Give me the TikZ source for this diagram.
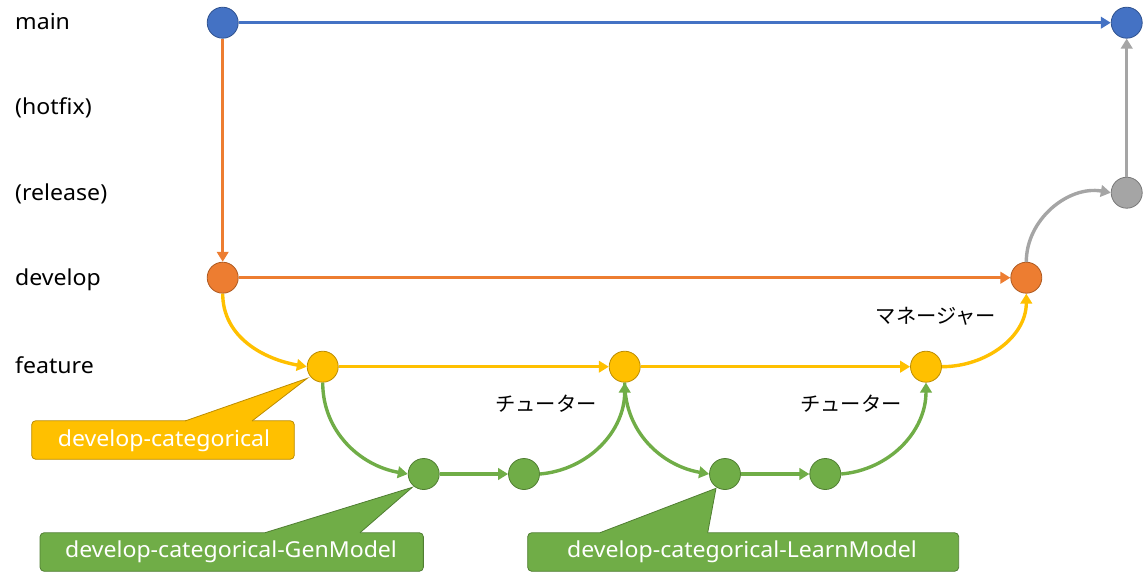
\documentclass[tikz,border=0pt]{standalone}
\usepackage{fontspec}
\setmainfont[FakeStretch=1.05]{Noto Sans}
\newfontfamily\jfont{Noto Sans CJK JP}
\usetikzlibrary{arrows.meta}

\definecolor{cblue}{HTML}{4472C4}
\definecolor{cblueD}{HTML}{2F528F}
\definecolor{corange}{HTML}{ED7D31}
\definecolor{corangeD}{HTML}{AE5A21}
\definecolor{cyellow}{HTML}{FFC000}
\definecolor{cyellowD}{HTML}{BC8C00}
\definecolor{cgreen}{HTML}{70AD47}
\definecolor{cgreenD}{HTML}{507E32}
\definecolor{cgray}{HTML}{A5A5A5}
\definecolor{cgrayD}{HTML}{787878}

\tikzset{
  commit/.style={circle, minimum size=31pt, inner sep=0pt, line width=0.8pt},
  cblueN/.style={commit, fill=cblue, draw=cblueD},
  corangeN/.style={commit, fill=corange, draw=corangeD},
  cyellowN/.style={commit, fill=cyellow, draw=cyellowD},
  cgreenN/.style={commit, fill=cgreen, draw=cgreenD},
  cgrayN/.style={commit, fill=cgray, draw=cgrayD},
  link/.style={line width=3.4pt, -{Triangle[length=10pt,width=11.5pt]}},
  lane/.style={anchor=base west, font=\fontsize{22}{24}\selectfont, text=black, inner sep=0pt},
  role/.style={anchor=center, font=\jfont\fontsize{20.3}{22}\selectfont, text=black, inner sep=0pt},
  tagbox/.style={rounded corners=4pt, line width=0.8pt, minimum height=38.5pt, inner sep=0pt},
  tagtext/.style={anchor=base, font=\fontsize{22}{24}\selectfont, text=white, inner sep=0pt},
}

\begin{document}
\begin{tikzpicture}[x=1pt, y=-1pt]
\useasboundingbox (0,0) rectangle (1143,581);

% lane names
\node[lane] (lmain) at (15,29) {main};
\node[lane] (lhot)  at (15,114) {(hotfix)};
\node[lane] (lrel)  at (15,200) {(release)};
\node[lane] (ldev)  at (15,285) {develop};
\node[lane] (lfeat) at (15,373) {feature};

% commits
\node[cblueN]   (m1) at (222.7,22.7) {};
\node[cblueN]   (m2) at (1126.7,22.7) {};
\node[cgrayN]   (r1) at (1126.7,192.7) {};
\node[corangeN] (d1) at (222.7,277.7) {};
\node[corangeN] (d2) at (1026.3,277.7) {};
\node[cyellowN] (f1) at (322.7,366.7) {};
\node[cyellowN] (f2) at (624.7,366.7) {};
\node[cyellowN] (f3) at (926,366.7) {};
\node[cgreenN]  (g1) at (423.7,474) {};
\node[cgreenN]  (g2) at (524,474) {};
\node[cgreenN]  (g3) at (725,474) {};
\node[cgreenN]  (g4) at (825.3,474) {};

% main / develop
\draw[link, cblue] (m1) -- (m2);
\draw[link, corange] (m1) -- (d1);
\draw[link, corange] (d1) -- (d2);

% feature branch
\draw[link, cyellow] (d1.south) to[out=-90, in=170] (f1.west);
\draw[link, cyellow] (f1) -- (f2);
\draw[link, cyellow] (f2) -- (f3);
\draw[link, cyellow] (f3.east) to[out=0, in=-90] (d2.south);

% sub-feature branches
\draw[link, cgreen] (f1.south) to[out=-90, in=170] (g1.west);
\draw[link, cgreen] (g1) -- (g2);
\draw[link, cgreen] (g2.east) to[out=5, in=-90] (f2.south);
\draw[link, cgreen] (f2.south) to[out=-90, in=170] (g3.west);
\draw[link, cgreen] (g3) -- (g4);
\draw[link, cgreen] (g4.east) to[out=5, in=-90] (f3.south);

% release
\draw[link, cgray] (d2.north) to[out=90, in=170] (r1.west);
\draw[link, cgray] (r1) -- (m2);

% reviewers
\node[role] (t1) at (546,404) {チューター};
\node[role] (t2) at (851,404) {チューター};
\node[role] (mg) at (936,316) {マネージャー};

% callout: develop-categorical
\node[tagbox, fill=cyellow, draw=cyellowD, minimum width=262.6pt] (c1) at (163,440) {};
\coordinate (c1a) at (185,421);
\coordinate (c1b) at (252,421);
\coordinate (c1t) at (307.3,378.3);
\fill[cyellow] (c1a) -- (c1t) -- (c1b) -- ++(0,2.5) -| (c1a) -- cycle;
\draw[cyellowD, line width=0.8pt, line join=miter] (c1a) -- (c1t) -- (c1b);
\node[tagtext] (c1l) at (164,446) {develop-categorical};

% callout: develop-categorical-GenModel
\node[tagbox, fill=cgreen, draw=cgreenD, minimum width=383.3pt] (c2) at (231.7,552) {};
\coordinate (c2a) at (265,532.7);
\coordinate (c2b) at (360,532.7);
\coordinate (c2t) at (412.3,487.3);
\fill[cgreen] (c2a) -- (c2t) -- (c2b) -- ++(0,2.5) -| (c2a) -- cycle;
\draw[cgreenD, line width=0.8pt, line join=miter] (c2a) -- (c2t) -- (c2b);
\node[tagtext] (c2l) at (231,557.3) {develop-categorical-GenModel};

% callout: develop-categorical-LearnModel
\node[tagbox, fill=cgreen, draw=cgreenD, minimum width=431pt] (c3) at (743.2,552) {};
\coordinate (c3a) at (600,532.7);
\coordinate (c3b) at (707.7,532.7);
\coordinate (c3t) at (716,488.3);
\fill[cgreen] (c3a) -- (c3t) -- (c3b) -- ++(0,2.5) -| (c3a) -- cycle;
\draw[cgreenD, line width=0.8pt, line join=miter] (c3a) -- (c3t) -- (c3b);
\node[tagtext] (c3l) at (742,557.7) {develop-categorical-LearnModel};

\end{tikzpicture}
\end{document}
